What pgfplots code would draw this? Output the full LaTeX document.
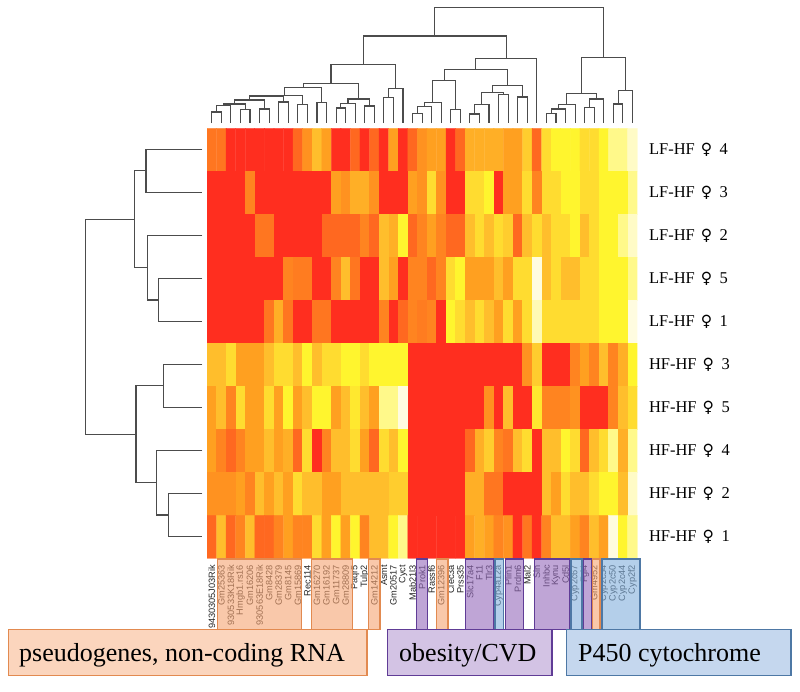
\documentclass[border=0pt]{standalone}
\usepackage{fontspec}
\setmainfont{Liberation Serif}
\newfontfamily\genefont{Liberation Sans}
\newfontfamily\symfont{DejaVu Sans}
\usepackage{pgfplots}
\pgfplotsset{compat=1.18}

\definecolor{pseudoFill}{RGB}{245,163,113}
\definecolor{pseudoLine}{RGB}{226,138,80}
\definecolor{pseudoBox}{RGB}{251,213,189}
\definecolor{cvdFill}{RGB}{148,105,187}
\definecolor{cvdLine}{RGB}{96,60,150}
\definecolor{cvdBox}{RGB}{211,195,228}
\definecolor{p450Fill}{RGB}{130,175,220}
\definecolor{p450Line}{RGB}{78,120,165}
\definecolor{p450Box}{RGB}{197,215,238}

% one merge of a dendrogram: x1, foot1, bar, x2, foot2 (picture pixels)
\newcommand{\mergeH}[5]{\addplot[dend] coordinates {(#1,#2) (#1,#3) (#4,#3) (#4,#5)};}
\newcommand{\mergeV}[5]{\addplot[dend] coordinates {(#2,#1) (#3,#1) (#3,#4) (#5,#4)};}
\newcommand{\fem}[2]{#1\hspace{6pt}{\symfont\fontsize{15.5}{18}\selectfont ♀}\hspace{7.5pt}#2}

\begin{document}
\begin{tikzpicture}
\path[use as bounding box] (0pt,0pt) rectangle (800pt,-691pt);

% heat map
\begin{axis}[
  at={(207pt,-128.3pt)}, anchor=north west,
  scale only axis, width=430.3pt, height=430pt,
  xmin=-0.5, xmax=44.5, ymin=-0.5, ymax=9.5, y dir=reverse,
  axis line style={draw=none}, major tick length=0pt,
  xtick={0,...,44},
  xticklabels={9430305J03Rik,Gm25363,930533K18Rik,Hmgb1.rs16,Gm16206,930563E18Rik,Gm8428,Gm28379,Gm8145,Gm15869,Rec114,Gm16270,Gm16192,Gm11737,Gm28809,Paqr5,Tulp2,Gm14212,Asmt,Gm20517,Cyct,Mab21l3,Prok1,Rassf6,Gm12396,Clec3a,Prss35,Slc17a4,F11,Tlr3,Cyp4a12a,Plin1,Prdm6,Mal2,Sln,Inhbc,Kynu,Cd5l,Cyp2c67,Fgl4,Gm4952,Cyp2c54,Cyp2c50,Cyp2c44,Cyp2f2},
  x tick label style={rotate=90, anchor=east, font=\genefont\fontsize{9.2}{10}\selectfont, text=black!85, inner sep=0pt},
  xticklabel shift=6.5pt,
  ytick={0,...,9},
  yticklabels={\fem{LF-HF}{4},\fem{LF-HF}{3},\fem{LF-HF}{2},\fem{LF-HF}{5},\fem{LF-HF}{1},\fem{HF-HF}{3},\fem{HF-HF}{5},\fem{HF-HF}{4},\fem{HF-HF}{2},\fem{HF-HF}{1}},
  yticklabel pos=right,
  y tick label style={anchor=west, font=\fontsize{16.5}{18}\selectfont, inner sep=0pt},
  yticklabel shift=11.5pt,
  colormap={heat}{rgb255=(255,46,31) rgb255=(255,104,32) rgb255=(255,132,32) rgb255=(255,160,32) rgb255=(255,190,44) rgb255=(255,220,48) rgb255=(255,245,46) rgb255=(255,249,138) rgb255=(255,252,224)},
  point meta min=0, point meta max=8,
]
\addplot[matrix plot, draw=mapped color, line width=0.35pt, mesh/cols=45, point meta=explicit]
  table[row sep=\\, x=x, y=y, meta=c] {
x y c\\
0 0 1.5\\1 0 1.5\\2 0 0\\3 0 0\\4 0 0\\5 0 0\\6 0 0\\7 0 0\\8 0 0\\9 0 1\\10 0 2.5\\11 0 4\\12 0 3\\13 0 0\\14 0 0\\15 0 1\\16 0 0\\17 0 1\\18 0 0\\19 0 3\\20 0 0\\21 0 1\\22 0 2.5\\23 0 3\\24 0 3\\25 0 0\\26 0 1\\27 0 3.5\\28 0 3.5\\29 0 3.5\\30 0 3.5\\31 0 3\\32 0 3\\33 0 4.5\\34 0 1\\35 0 5\\36 0 6\\37 0 6\\38 0 6\\39 0 5\\40 0 5\\41 0 6\\42 0 7\\43 0 7\\44 0 7.7\\
0 1 0\\1 1 0\\2 1 0\\3 1 0\\4 1 2\\5 1 0\\6 1 0\\7 1 0\\8 1 0\\9 1 0\\10 1 0\\11 1 0\\12 1 0\\13 1 3\\14 1 2.5\\15 1 3.5\\16 1 3.5\\17 1 2.5\\18 1 0\\19 1 0\\20 1 0\\21 1 3\\22 1 2.5\\23 1 5\\24 1 2.5\\25 1 0\\26 1 0\\27 1 5\\28 1 5\\29 1 6\\30 1 0\\31 1 3\\32 1 3\\33 1 5\\34 1 2\\35 1 5\\36 1 5\\37 1 6\\38 1 6\\39 1 5\\40 1 5\\41 1 6\\42 1 6\\43 1 6\\44 1 7\\
0 2 0\\1 2 0\\2 2 0\\3 2 0\\4 2 0\\5 2 1.5\\6 2 1.5\\7 2 0\\8 2 0\\9 2 0\\10 2 0\\11 2 0\\12 2 1\\13 2 1\\14 2 1\\15 2 1\\16 2 2\\17 2 1\\18 2 4\\19 2 3.5\\20 2 6\\21 2 1\\22 2 2\\23 2 3\\24 2 2\\25 2 1\\26 2 1\\27 2 4\\28 2 5\\29 2 4\\30 2 5\\31 2 4.5\\32 2 1\\33 2 4\\34 2 5\\35 2 4\\36 2 5\\37 2 5\\38 2 6\\39 2 4\\40 2 5\\41 2 6\\42 2 6\\43 2 7\\44 2 7.7\\
0 3 0\\1 3 0\\2 3 0\\3 3 0\\4 3 0\\5 3 0\\6 3 0\\7 3 0\\8 3 2\\9 3 1.7\\10 3 1.7\\11 3 0\\12 3 0\\13 3 2\\14 3 4\\15 3 1.5\\16 3 0\\17 3 0\\18 3 4\\19 3 3\\20 3 0\\21 3 2\\22 3 2\\23 3 1\\24 3 2\\25 3 5\\26 3 6\\27 3 3\\28 3 3\\29 3 3\\30 3 4\\31 3 3\\32 3 5\\33 3 5\\34 3 8\\35 3 4\\36 3 5\\37 3 4\\38 3 4\\39 3 5\\40 3 5\\41 3 6\\42 3 6\\43 3 6\\44 3 7\\
0 4 0\\1 4 0\\2 4 0\\3 4 0\\4 4 0\\5 4 0\\6 4 1.5\\7 4 3.5\\8 4 1.5\\9 4 0\\10 4 0\\11 4 1.5\\12 4 1.5\\13 4 0\\14 4 0\\15 4 0\\16 4 0\\17 4 0\\18 4 2\\19 4 0\\20 4 1\\21 4 2\\22 4 1.7\\23 4 2\\24 4 0\\25 4 6\\26 4 5\\27 4 4\\28 4 5\\29 4 4\\30 4 3\\31 4 5\\32 4 3\\33 4 5\\34 4 7.5\\35 4 5\\36 4 5\\37 4 5\\38 4 5\\39 4 5\\40 4 5\\41 4 6\\42 4 6\\43 4 6\\44 4 8\\
0 5 4\\1 5 4\\2 5 5\\3 5 3\\4 5 3\\5 5 3\\6 5 4\\7 5 5\\8 5 5\\9 5 4\\10 5 6\\11 5 4\\12 5 5\\13 5 5\\14 5 6\\15 5 6\\16 5 5\\17 5 6\\18 5 6\\19 5 6\\20 5 6\\21 5 0\\22 5 0\\23 5 0\\24 5 0\\25 5 0\\26 5 0\\27 5 0\\28 5 0\\29 5 0\\30 5 0\\31 5 0\\32 5 0\\33 5 2.5\\34 5 4.5\\35 5 0\\36 5 0\\37 5 0\\38 5 2\\39 5 3\\40 5 2\\41 5 4\\42 5 2\\43 5 3.5\\44 5 6\\
0 6 3\\1 6 4\\2 6 2\\3 6 5\\4 6 3\\5 6 3\\6 6 5\\7 6 3\\8 6 6\\9 6 3\\10 6 4\\11 6 6\\12 6 6\\13 6 3\\14 6 4\\15 6 5.5\\16 6 4\\17 6 3\\18 6 7\\19 6 7\\20 6 8\\21 6 0\\22 6 0\\23 6 0\\24 6 0\\25 6 0\\26 6 0\\27 6 0\\28 6 0\\29 6 2.5\\30 6 0\\31 6 4\\32 6 0\\33 6 0\\34 6 5.5\\35 6 2\\36 6 2\\37 6 2\\38 6 2.5\\39 6 0\\40 6 0\\41 6 0\\42 6 2\\43 6 4\\44 6 5\\
0 7 3\\1 7 2\\2 7 1\\3 7 2\\4 7 3\\5 7 3\\6 7 4\\7 7 3\\8 7 3.5\\9 7 1\\10 7 5\\11 7 0\\12 7 2\\13 7 4\\14 7 4\\15 7 5\\16 7 3\\17 7 1\\18 7 5\\19 7 4\\20 7 6\\21 7 0\\22 7 0\\23 7 0\\24 7 0\\25 7 0\\26 7 0\\27 7 1\\28 7 3.5\\29 7 4.5\\30 7 2\\31 7 1.5\\32 7 4\\33 7 5\\34 7 0\\35 7 4\\36 7 4\\37 7 6\\38 7 5\\39 7 1\\40 7 4\\41 7 5\\42 7 7\\43 7 3.5\\44 7 7\\
0 8 2.5\\1 8 2.5\\2 8 2.5\\3 8 3\\4 8 2\\5 8 4\\6 8 3\\7 8 4\\8 8 3\\9 8 5\\10 8 4\\11 8 4\\12 8 3\\13 8 3\\14 8 4\\15 8 4\\16 8 4\\17 8 4\\18 8 4\\19 8 4.5\\20 8 4.5\\21 8 0\\22 8 0\\23 8 0\\24 8 0\\25 8 0\\26 8 0\\27 8 3.5\\28 8 3.5\\29 8 1.5\\30 8 1.5\\31 8 0\\32 8 0\\33 8 0\\34 8 0\\35 8 4\\36 8 3\\37 8 5\\38 8 4\\39 8 4\\40 8 5\\41 8 6\\42 8 6\\43 8 4\\44 8 7.7\\
0 9 1\\1 9 4\\2 9 1\\3 9 2\\4 9 4\\5 9 1\\6 9 1\\7 9 2\\8 9 3\\9 9 2\\10 9 2\\11 9 5\\12 9 3\\13 9 6\\14 9 3\\15 9 6\\16 9 2\\17 9 4\\18 9 4\\19 9 6\\20 9 7\\21 9 0\\22 9 0\\23 9 0\\24 9 0\\25 9 0\\26 9 0\\27 9 3\\28 9 3.5\\29 9 3\\30 9 2\\31 9 2.5\\32 9 0\\33 9 1.5\\34 9 0\\35 9 2\\36 9 4\\37 9 4\\38 9 3\\39 9 2\\40 9 4\\41 9 3\\42 9 8\\43 9 6\\44 9 7\\
};
\end{axis}

% dendrograms, in picture pixels
\begin{axis}[
  at={(0pt,0pt)}, anchor=north west,
  scale only axis, width=800pt, height=691pt,
  xmin=0, xmax=800, ymin=0, ymax=691, y dir=reverse,
  hide axis, clip=false,
  dend/.style={draw=black!70, line width=1.05pt, mark=none},
]
% top
\mergeH{211.8}{123}{112}{221.4}{123}
\mergeH{216.6}{112}{105.3}{230.9}{123}
\mergeH{240.5}{123}{109.3}{250}{123}
\mergeH{223.7}{105.3}{104}{245.2}{109.3}
\mergeH{259.6}{123}{109}{269.2}{123}
\mergeH{234.5}{104}{100}{264.4}{109}
\mergeH{278.7}{123}{102}{288.3}{123}
\mergeH{249.4}{100}{96}{283.5}{102}
\mergeH{297.8}{123}{104.3}{307.4}{123}
\mergeH{266.5}{96}{95.3}{302.6}{104.3}
\mergeH{317}{123}{102.7}{326.5}{123}
\mergeH{284.5}{95.3}{87.7}{321.7}{102.7}
\mergeH{336.1}{123}{108}{345.6}{123}
\mergeH{340.9}{108}{103.3}{355.2}{123}
\mergeH{364.8}{123}{106}{374.3}{123}
\mergeH{348}{103.3}{99}{369.5}{106}
\mergeH{303.1}{87.7}{83.3}{358.8}{99}
\mergeH{383.9}{123}{97.7}{393.4}{123}
\mergeH{388.6}{97.7}{88.3}{403}{123}
\mergeH{331}{83.3}{64.7}{395.8}{88.3}
\mergeH{412.6}{123}{113.7}{422.1}{123}
\mergeH{417.4}{113.7}{106.7}{431.7}{123}
\mergeH{424.5}{106.7}{102.7}{441.2}{123}
\mergeH{450.8}{123}{109.3}{460.4}{123}
\mergeH{432.9}{102.7}{80.3}{455.6}{109.3}
\mergeH{469.9}{123}{114}{479.5}{123}
\mergeH{474.7}{114}{104.3}{489}{123}
\mergeH{498.6}{123}{94.3}{508.2}{123}
\mergeH{481.9}{104.3}{92.3}{503.4}{94.3}
\mergeH{517.7}{123}{97}{527.3}{123}
\mergeH{492.6}{92.3}{85.7}{522.5}{97}
\mergeH{444.2}{80.3}{69.3}{507.6}{85.7}
\mergeH{475.9}{69.3}{58.3}{536.8}{123}
\mergeH{363.4}{64.7}{36}{506.4}{58.3}
\mergeH{546.4}{123}{113.3}{556}{123}
\mergeH{551.2}{113.3}{109}{565.5}{123}
\mergeH{558.4}{109}{104.3}{575.1}{123}
\mergeH{584.6}{123}{107.3}{594.2}{123}
\mergeH{589.4}{107.3}{99}{603.8}{123}
\mergeH{566.7}{104.3}{93.3}{596.6}{99}
\mergeH{613.3}{123}{104}{622.9}{123}
\mergeH{618.1}{104}{90.3}{632.4}{123}
\mergeH{581.7}{93.3}{57.3}{625.3}{90.3}
\mergeH{434.9}{36}{7.3}{603.5}{57.3}
% left
\mergeV{149.3}{202.3}{146}{192.3}{202.3}
\mergeV{278.7}{202.3}{158.7}{321.3}{202.3}
\mergeV{235.3}{202.3}{147.3}{300}{158.7}
\mergeV{170.8}{146}{134.7}{267.7}{147.3}
\mergeV{364.3}{202.3}{163.3}{407.3}{202.3}
\mergeV{493.7}{202.3}{168.7}{536.3}{202.3}
\mergeV{450.3}{202.3}{156.7}{515}{168.7}
\mergeV{385.8}{163.3}{136}{482.7}{156.7}
\mergeV{219.2}{134.7}{85.7}{434.3}{136}
\end{axis}

% tinted boxes over the gene names, then the three category boxes
\begin{scope}[x=1pt, y=-1pt]
\tikzset{tint/.style={fill opacity=0.6, line width=1.2pt}}
\foreach \a/\b in {217.3/301.7, 311.3/352.7, 368.3/380, 436.3/448, 592/600}
  \draw[tint, fill=pseudoFill, draw=pseudoLine] (\a,559) rectangle (\b,629.5);
\foreach \a/\b in {416.7/427.3, 465.7/494, 505.3/523.3, 534.3/570, 583.3/591.3}
  \draw[tint, fill=cvdFill, draw=cvdLine] (\a,559) rectangle (\b,629.5);
\foreach \a/\b/\c in {495/503.3/629.5, 571/582/631.5, 602/640/629.5}
  \draw[tint, fill=p450Fill, draw=p450Line] (\a,559) rectangle (\b,\c);

\draw[fill=pseudoBox, draw=pseudoLine, line width=1.2pt] (8.7,629.6) rectangle (367,675.5);
\draw[fill=cvdBox, draw=cvdLine, line width=1.2pt] (387.8,629.6) rectangle (552,675.5);
\draw[fill=p450Box, draw=p450Line, line width=1.2pt] (566.3,629.6) rectangle (791,675.5);
\tikzset{boxtext/.style={anchor=base west, inner sep=0pt, font=\fontsize{26}{28}\selectfont}}
\node[boxtext] at (19,661) {pseudogenes, non-coding RNA};
\node[boxtext] at (399,661) {obesity/CVD};
\node[boxtext] at (578,661) {P450 cytochrome};
\end{scope}
\end{tikzpicture}
\end{document}
